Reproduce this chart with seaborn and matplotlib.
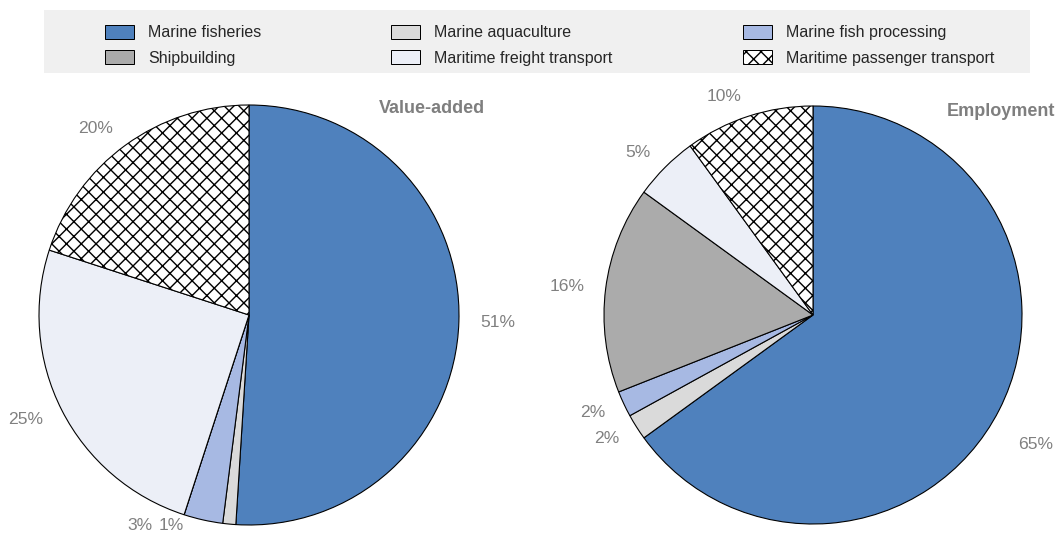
import matplotlib
matplotlib.use("Agg")
import matplotlib.pyplot as plt
from matplotlib import font_manager
from matplotlib.patches import Patch, Rectangle
import seaborn as sns

# --- data -------------------------------------------------------------
sectors = ["Marine fisheries", "Marine aquaculture", "Marine fish processing",
           "Shipbuilding", "Maritime freight transport",
           "Maritime passenger transport"]
value_added = [51, 1, 3, 0, 25, 20]
employment = [65, 2, 2, 16, 5, 10]
panel_titles = ["Value-added", "Employment"]

# --- style ------------------------------------------------------------
sector_colors = ["#4F81BD", "#DADADA", "#A7B9E3", "#ABABAB", "#ECEFF7", "#FFFFFF"]
sector_hatches = [None, None, None, None, None, "xxx"]

DPI = 400 / 3
W, H = 1058, 534


def pt(px):
    """Convert a size in pixels to points at the figure dpi."""
    return px * 72 / DPI


def has_font(name):
    try:
        font_manager.findfont(font_manager.FontProperties(family=name),
                              fallback_to_default=False)
        return True
    except Exception:
        return False


sns.set_theme(style="white")
plt.rcParams["font.family"] = ["Liberation Sans", "DejaVu Sans"]
plt.rcParams["hatch.linewidth"] = pt(1.4)

if has_font("Liberation Sans Narrow"):
    label_font = dict(family=["Liberation Sans Narrow", "Liberation Sans"], size=pt(20))
else:
    label_font = dict(family=["Liberation Sans", "DejaVu Sans"], size=pt(17.5))

LABEL_GREY = "#808080"

fig = plt.figure(figsize=(W / DPI, H / DPI), dpi=DPI)
fig.patch.set_facecolor("white")


def pie_axes(cx, cy, r):
    return fig.add_axes([(cx - r) / W, (H - cy - r) / H, 2 * r / W, 2 * r / H])


def draw_pie(ax, values, title, title_xy, label_moves=None):
    labels = [f"{v}%" if v > 0 else "" for v in values]
    wedges, texts = ax.pie(
        values, labels=labels, colors=sector_colors, startangle=90,
        counterclock=False, labeldistance=1.1,
        wedgeprops=dict(edgecolor="black", linewidth=pt(1.1)),
        textprops=dict(color=LABEL_GREY, **label_font),
    )
    for w, h in zip(wedges, sector_hatches):
        if h:
            w.set_hatch(h)
    # nudge labels that would collide or fall off the canvas
    for idx, (x, y, ha) in (label_moves or {}).items():
        texts[idx].set_position((x, y))
        texts[idx].set_horizontalalignment(ha)
    ax.set_xlim(-1, 1)
    ax.set_ylim(-1, 1)
    ax.set_axis_off()
    ax.text(title_xy[0], title_xy[1], title, ha="center", va="baseline",
            color="#7F7F7F", fontweight="bold", fontsize=pt(18))


ax_left = pie_axes(249, 315, 210)
draw_pie(ax_left, value_added, panel_titles[0], (0.871, 0.962),
         label_moves={2: (-0.52, -1.0, "center"), 1: (-0.37, -1.0, "center")})

ax_right = pie_axes(813, 315, 209)
draw_pie(ax_right, employment, panel_titles[1], (0.90, 0.952),
         label_moves={0: (0.98, -0.62, "left")})

# --- legend across the top -------------------------------------------
fig.patches.append(Rectangle((44 / W, 1 - 73 / H), 986 / W, 63 / H,
                             transform=fig.transFigure, facecolor="#F0F0F0",
                             edgecolor="none", zorder=0))

handles = [Patch(facecolor=c, edgecolor="black", hatch=h, linewidth=pt(1.0))
           for c, h in zip(sector_colors, sector_hatches)]
order = [0, 3, 1, 4, 2, 5]
fs = 16
fig.legend([handles[i] for i in order], [sectors[i] for i in order],
           loc="upper left", bbox_to_anchor=(105 / W, 1 - 25 / H),
           bbox_transform=fig.transFigure, borderaxespad=0, borderpad=0,
           frameon=False, ncol=3, fontsize=pt(fs),
           handlelength=29 / fs, handleheight=15.5 / fs,
           handletextpad=14 / fs, columnspacing=130 / fs, labelspacing=0.62)

fig.savefig("out.png", dpi=DPI)
